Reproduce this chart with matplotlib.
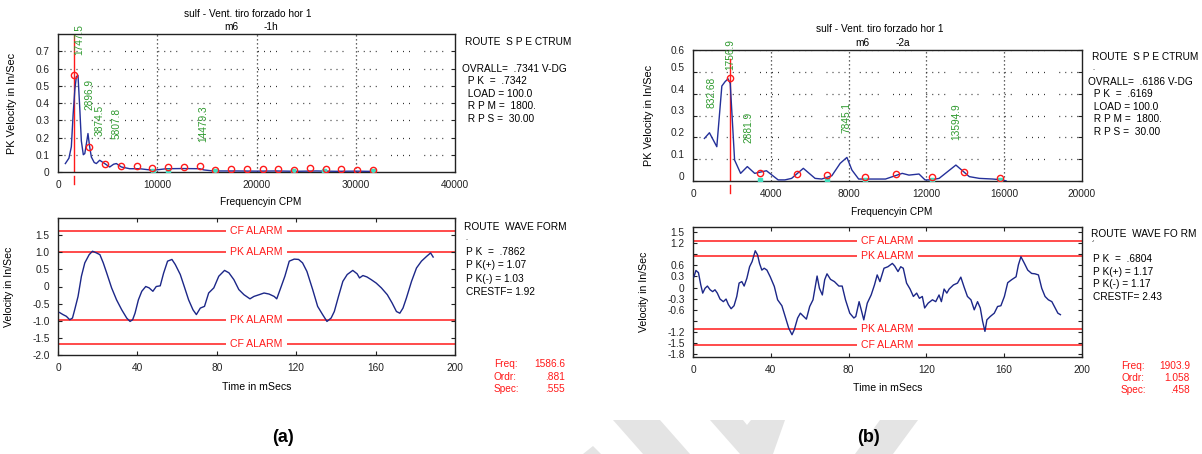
import matplotlib
matplotlib.use("Agg")
import matplotlib.pyplot as plt
from matplotlib.patches import Polygon
from matplotlib.transforms import ScaledTranslation

plt.rcParams['font.family'] = ['Liberation Sans', 'DejaVu Sans']

W, H = 1202, 454

# ---------------- data ----------------
# (a) spectrum
spec_a_freq = [740, 1100, 1344, 1520, 1700, 1848, 2016, 2184, 2352, 2550, 2700, 2850, 3020, 3180, 3360,
               3650, 3864, 4200, 4704, 5208, 5600, 5880, 6384, 7224, 8232, 9576, 10920, 12500, 14280,
               14700, 15624, 18000, 20000, 22000, 24000, 26000, 28000, 30000, 32000]
spec_a_vel = [0.049, 0.080, 0.146, 0.330, 0.480, 0.553, 0.560, 0.380, 0.180, 0.100, 0.107, 0.160, 0.223,
              0.150, 0.087, 0.055, 0.049, 0.068, 0.049, 0.029, 0.045, 0.049, 0.029, 0.019, 0.019, 0.010,
              0.019, 0.020, 0.019, 0.012, 0.006, 0.006, 0.005, 0.006, 0.004, 0.006, 0.004, 0.005, 0.003]
mark_a_freq = [1587, 3173, 4760, 6346, 7933, 9520, 11106, 12693, 14279, 15866, 17453, 19039, 20626,
               22212, 23799, 25386, 26972, 28559, 30145, 31732]
mark_a_vel = [0.563, 0.146, 0.045, 0.035, 0.035, 0.025, 0.029, 0.029, 0.033, 0.014, 0.019, 0.016,
              0.017, 0.017, 0.014, 0.021, 0.016, 0.019, 0.014, 0.014]
cyan_a_freq = [9600, 11100, 15800, 23700, 26800, 31700]
peak_a_labels = ['1747.5', '2896.9', '3874.5', '5807.8', '14479.3']
peak_a_x = [2181, 3121, 4195, 5873, 14598]
peak_a_y = [0.680, 0.359, 0.208, 0.194, 0.175]
cursor_a = 1586.6

# (b) spectrum
spec_b_freq = [586, 845, 1224, 1483, 1650, 1800, 1914, 2138, 2448, 2793, 3172, 3776, 4379, 4724, 5069,
               5672, 6276, 6620, 7137, 7568, 7913, 8172, 8517, 9896, 10758, 11103, 11620, 11930, 12224,
               12654, 13516, 14206, 14723, 15413, 15930, 16102]
spec_b_vel = [0.195, 0.221, 0.157, 0.435, 0.455, 0.468, 0.447, 0.096, 0.035, 0.066, 0.035, 0.047, 0.005,
              0.005, 0.012, 0.058, 0.012, 0.009, 0.024, 0.081, 0.108, 0.050, 0.009, 0.009, 0.035, 0.027,
              0.032, 0.005, 0.005, 0.012, 0.073, 0.020, 0.012, 0.009, 0.005, 0.0]
mark_b_freq = [1904, 3431, 5362, 6913, 8827, 10413, 12310, 13947, 15792]
mark_b_vel = [0.47, 0.035, 0.034, 0.027, 0.020, 0.030, 0.020, 0.043, 0.015]
cyan_b_freq = [3431, 6913, 8827, 12310, 15792]
peak_b_labels = ['832.68', '1756.9', '2881.9', '7845.1', '13594.9']
peak_b_x = [931, 1931, 2862, 7913, 13550]
peak_b_y = [0.333, 0.508, 0.173, 0.218, 0.188]
cursor_b = 1903.9

# (a) waveform
wave_a_t = [0.8, 2.5, 4.2, 5.9, 7.3, 8.4, 10.1, 11.8, 13.5, 15.7, 17.4, 19.4, 21.1, 22.8, 24.5, 27.0,
            29.5, 32.1, 34.6, 36.3, 37.6, 38.8, 40.5, 42.2, 44.2, 45.9, 47.8, 49.5, 51.5, 53.2, 55.2,
            57.4, 59.1, 61.6, 63.6, 65.8, 68.0, 69.7, 71.7, 73.8, 75.9, 78.5, 81.0, 83.9, 86.1, 88.6,
            91.1, 93.7, 96.7, 98.7, 101.3, 103.8, 106.3, 108.9, 110.2, 112.2, 114.3, 116.5, 119.0,
            121.2, 123.2, 125.4, 128.3, 130.8, 133.3, 135.5, 137.6, 139.2, 141.3, 143.5, 145.7, 148.5,
            150.7, 151.9, 153.6, 155.6, 157.8, 160.3, 162.9, 165.9, 168.3, 170.5, 172.2, 173.8, 175.5,
            178.1, 180.6, 183.1, 185.7, 187.7, 189.0]
wave_a_v = [-0.76, -0.82, -0.87, -0.97, -0.92, -0.68, -0.29, 0.30, 0.69, 0.93, 1.03, 0.98, 0.93, 0.69,
            0.40, -0.04, -0.39, -0.68, -0.92, -1.02, -0.97, -0.78, -0.39, -0.14, 0.00, -0.04, -0.14,
            0.00, 0.02, 0.39, 0.74, 0.79, 0.64, 0.35, 0.00, -0.39, -0.68, -0.82, -0.63, -0.58, -0.19,
            -0.04, 0.30, 0.47, 0.40, 0.20, -0.09, -0.24, -0.36, -0.29, -0.24, -0.19, -0.22, -0.29,
            -0.36, -0.04, 0.30, 0.74, 0.80, 0.79, 0.69, 0.44, -0.09, -0.58, -0.82, -1.02, -0.92, -0.73,
            -0.29, 0.15, 0.35, 0.47, 0.37, 0.25, 0.32, 0.28, 0.20, 0.10, -0.04, -0.24, -0.48, -0.73,
            -0.78, -0.63, -0.34, 0.15, 0.54, 0.74, 0.88, 0.98, 0.86]

# (b) waveform
wave_b_t = [0.5, 1.5, 2.8, 4.0, 5.0, 6.2, 7.4, 8.8, 10.1, 11.3, 12.5, 13.9, 15.6, 17.0, 18.2, 19.6,
            21.1, 22.5, 23.7, 25.1, 26.3, 27.7, 29.1, 30.4, 32.0, 33.2, 34.2, 35.4, 36.6, 38.0, 39.7,
            41.8, 43.5, 45.7, 47.4, 49.2, 50.9, 52.1, 53.8, 55.2, 56.9, 58.3, 60.0, 61.7, 63.8, 65.0,
            66.5, 67.7, 68.9, 70.7, 72.7, 75.0, 76.7, 78.4, 80.6, 82.7, 83.7, 85.4, 86.5, 87.8, 89.6,
            91.6, 93.3, 94.7, 96.1, 98.2, 100.2, 102.5, 103.7, 105.4, 106.8, 108.1, 109.8, 111.6,
            113.3, 115.0, 116.4, 117.9, 119.1, 120.9, 123.1, 124.8, 126.5, 127.7, 129.1, 130.5, 131.7,
            133.9, 136.0, 137.7, 139.4, 141.1, 142.9, 144.6, 146.3, 147.7, 148.9, 150.1, 151.1, 152.8,
            154.9, 156.6, 158.3, 160.1, 161.8, 163.8, 166.1, 167.3, 168.6, 170.4, 172.1, 174.1, 175.8,
            177.6, 179.3, 181.0, 182.7, 184.5, 185.8, 187.6, 188.9]
wave_b_v = [0.29, 0.46, 0.40, 0.07, -0.15, -0.02, 0.04, -0.06, -0.11, -0.06, -0.15, -0.31, -0.38,
            -0.31, -0.46, -0.57, -0.49, -0.24, 0.12, 0.16, 0.04, 0.25, 0.56, 0.70, 0.99, 0.88, 0.65,
            0.47, 0.52, 0.47, 0.29, 0.03, -0.33, -0.49, -0.78, -1.09, -1.27, -1.13, -0.82, -0.69,
            -0.78, -0.85, -0.51, -0.33, 0.31, -0.02, -0.20, 0.21, 0.37, 0.22, 0.16, 0.04, 0.04, -0.33,
            -0.69, -0.82, -0.78, -0.38, -0.60, -0.87, -0.42, -0.20, 0.07, 0.34, 0.16, 0.52, 0.56, 0.65,
            0.58, 0.43, 0.56, 0.52, 0.12, -0.04, -0.24, -0.15, -0.29, -0.24, -0.55, -0.42, -0.33,
            -0.38, -0.20, -0.38, -0.04, -0.15, -0.04, 0.07, 0.12, 0.28, 0.01, -0.24, -0.33, -0.60,
            -0.38, -0.55, -0.91, -1.18, -0.87, -0.78, -0.69, -0.51, -0.49, -0.24, 0.13, 0.21, 0.29,
            0.61, 0.83, 0.65, 0.47, 0.38, 0.37, 0.34, -0.02, -0.24, -0.33, -0.38, -0.51, -0.69, -0.73]

alarm_a = {'CF ALARM': [1.63, -1.68], 'PK ALARM': [1.0, -0.99]}
alarm_b = {'CF ALARM': [1.26, -1.54], 'PK ALARM': [0.85, -1.12]}

titles = ["sulf - Vent. tiro forzado hor 1", "sulf - Vent. tiro forzado hor 1"]

spec_info_a = ["OVRALL=  .7341 V-DG", "  P K  =  .7342", "  LOAD = 100.0", "  R P M =  1800.", "  R P S =  30.00"]
spec_info_b = ["OVRALL=  .6186 V-DG", "  P K  =  .6169", "  LOAD = 100.0", "  R P M =  1800.", "  R P S =  30.00"]
wave_info_a = ["P K  =  .7862", "P K(+) = 1.07", "P K(-) = 1.03", "CRESTF= 1.92"]
wave_info_b = ["P K  =  .6804", "P K(+) = 1.17", "P K(-) = 1.17", "CRESTF= 2.43"]
cursor_info_a = [("Freq:", "1586.6"), ("Ordr:", ".881"), ("Spec:", ".555")]
cursor_info_b = [("Freq:", "1903.9"), ("Ordr:", "1.058"), ("Spec:", ".458")]

# ---------------- styling ----------------
BLUE = '#24309a'
WBLUE = '#1c2788'
RED = '#ff1a1a'
GREEN = '#2f9a2f'
FS = 7.3

fig = plt.figure(figsize=(W / 100, H / 100), dpi=100)


def rect(l, r, t, b):
    return [l / W, 1 - b / H, (r - l) / W, (b - t) / H]


def fx(x):
    return x / W


def fy(y):
    return 1 - y / H


def style_axes(ax):
    for s in ax.spines.values():
        s.set_linewidth(1.0)
        s.set_color('#222222')
    ax.tick_params(axis='y', which='both', direction='in', length=3, labelsize=FS, pad=6,
                   right=True, colors='#222222')
    ax.tick_params(axis='x', labelsize=FS, pad=6, colors='#222222')


group_dash = (0, (0.8, 4.0, 0.8, 4.0, 0.8, 4.0, 0.8, 11.4))


def spectrum(ax, freq, vel, mf, mv, cyan, plabels, px, py, cursor, xmax, ymax, yt, xt, cursor_top):
    ax.set_xlim(0, xmax)
    ax.set_ylim(0, ymax)
    for x in xt[1:-1]:
        ax.axvline(x, color='#333333', lw=0.9, linestyle=(0, (1, 2.2)), zorder=1)
    for y in yt[1:]:
        ax.axhline(y, color='#333333', lw=0.9, linestyle=group_dash, zorder=1)
    ax.plot([cursor, cursor], [0, cursor_top], color=RED, lw=1.0, zorder=2)
    ax.plot([cursor, cursor], [-0.03, -0.09], color=RED, lw=1.0, clip_on=False,
            transform=ax.get_xaxis_transform())
    ax.plot(freq, vel, color=BLUE, lw=1.0, zorder=3)
    ax.plot(cyan, [0.004] * len(cyan), linestyle='none', marker='s', ms=2.5,
            mfc='#40e0c0', mec='#40e0c0', zorder=3)
    ax.plot(mf, mv, linestyle='none', marker='o', ms=4.5, mfc='none', mec=RED, mew=1.0, zorder=4)
    for lab, x, y in zip(plabels, px, py):
        ax.text(x, y, lab, rotation=90, ha='center', va='bottom', color=GREEN, fontsize=FS,
                clip_on=False, zorder=5)
    ax.set_yticks(yt)
    ax.set_yticklabels(['0'] + ['%.1f' % v for v in yt[1:]])
    ax.set_xticks(xt)
    ax.set_xticklabels([str(v) for v in xt])
    ax.tick_params(axis='x', length=0)
    ax.set_ylabel('PK Velocity in In/Sec', fontsize=FS + 0.5)
    ax.set_xlabel('Frequencyin CPM', fontsize=FS)


def waveform(ax, t, v, alarms, ylim, yt, ylabels):
    ax.set_xlim(0, 200)
    ax.set_ylim(*ylim)
    for name, ys in alarms.items():
        for y in ys:
            ax.axhline(y, color=RED, lw=1.1, zorder=1)
            ax.text(100, y, name, ha='center', va='center', color=RED, fontsize=FS + 0.3,
                    bbox=dict(facecolor='white', edgecolor='none', pad=3.0), zorder=2)
    ax.plot(t, v, color=WBLUE, lw=1.0, zorder=3)
    ax.set_yticks(yt)
    ax.set_yticklabels(ylabels)
    ax.set_xticks([0, 40, 80, 120, 160, 200])
    ax.tick_params(axis='x', direction='in', length=3, top=True)
    ax.set_ylabel('Velocity in In/Sec', fontsize=FS + 0.3)
    ax.set_xlabel('Time in mSecs', fontsize=FS + 0.3)


# ---- (a) spectrum
ax1 = fig.add_axes(rect(58, 455, 34, 172))
spectrum(ax1, spec_a_freq, spec_a_vel, mark_a_freq, mark_a_vel, cyan_a_freq, peak_a_labels,
         peak_a_x, peak_a_y, cursor_a, 40000, 0.8, [0, 0.1, 0.2, 0.3, 0.4, 0.5, 0.6, 0.7],
         [0, 10000, 20000, 30000, 40000], 0.8)
style_axes(ax1)
ax1.tick_params(axis='x', length=0)
ax1.yaxis.set_label_coords(-0.104, 0.5)
ax1.xaxis.set_label_coords(0.51, -0.18)

# ---- (b) spectrum
ax2 = fig.add_axes(rect(693, 1082, 50, 181))
spectrum(ax2, spec_b_freq, spec_b_vel, mark_b_freq, mark_b_vel, cyan_b_freq, peak_b_labels,
         peak_b_x, peak_b_y, cursor_b, 20000, 0.6, [0, 0.1, 0.2, 0.3, 0.4, 0.5, 0.6],
         [0, 4000, 8000, 12000, 16000, 20000], 0.56)
style_axes(ax2)
ax2.tick_params(axis='x', length=0)
ax2.yaxis.set_label_coords(-0.101, 0.5)
ax2.xaxis.set_label_coords(0.51, -0.2)
# tick labels of (b) spectrum sit a little above their ticks in the reference
shift = ScaledTranslation(0, 5 / 100, fig.dpi_scale_trans)
for lab in ax2.get_yticklabels()[:-1]:
    lab.set_transform(lab.get_transform() + shift)

# ---- (a) waveform
ax3 = fig.add_axes(rect(58, 455, 218, 355))
yt3 = [1.5, 1.0, 0.5, 0, -0.5, -1.0, -1.5, -2.0]
waveform(ax3, wave_a_t, wave_a_v, alarm_a, (-2.0, 2.0), yt3,
         ['1.5', '1.0', '0.5', '0', '-0.5', '-1.0', '-1.5', '-2.0'])
style_axes(ax3)
ax3.tick_params(axis='x', direction='in', length=3, top=True)
ax3.yaxis.set_label_coords(-0.11, 0.5)
ax3.xaxis.set_label_coords(0.5, -0.2)

# ---- (b) waveform
ax4 = fig.add_axes(rect(693, 1082, 227, 357))
yt4 = [1.5, 1.2, 0.9, 0.6, 0.3, 0, -0.3, -0.6, -0.9, -1.2, -1.5, -1.8]
waveform(ax4, wave_b_t, wave_b_v, alarm_b, (-1.87, 1.63), yt4,
         ['1.5', '1.2', '', '0.6', '0.3', '0', '-0.3', '-0.6', '', '-1.2', '-1.5', '-1.8'])
style_axes(ax4)
ax4.tick_params(axis='x', direction='in', length=3, top=True)
ax4.yaxis.set_label_coords(-0.114, 0.5)
ax4.xaxis.set_label_coords(0.5, -0.2)

# ---- titles
fig.text(fx(248), fy(14), titles[0], ha='center', va='center', fontsize=FS)
fig.text(fx(231), fy(27), 'm6', ha='center', va='center', fontsize=FS)
fig.text(fx(271), fy(27), '-1h', ha='center', va='center', fontsize=FS)
fig.text(fx(880), fy(29), titles[1], ha='center', va='center', fontsize=FS)
fig.text(fx(862), fy(43), 'm6', ha='center', va='center', fontsize=FS)
fig.text(fx(903), fy(43), '-2a', ha='center', va='center', fontsize=FS)

# ---- info panels (a)
fig.text(fx(465), fy(42), 'ROUTE  S P E CTRUM', va='center', fontsize=FS)
for i, s in enumerate(spec_info_a):
    fig.text(fx(462), fy(69 + 12.4 * i), s, va='center', fontsize=FS)
fig.text(fx(464), fy(227), 'ROUTE  WAVE FORM', va='center', fontsize=FS)
fig.text(fx(465), fy(239), '.', va='center', fontsize=FS - 2)
for i, s in enumerate(wave_info_a):
    fig.text(fx(466), fy(252 + 13.3 * i), s, va='center', fontsize=FS)
for i, (k, v) in enumerate(cursor_info_a):
    fig.text(fx(494), fy(364 + 12.5 * i), k, va='center', color=RED, fontsize=FS)
    fig.text(fx(565), fy(364 + 12.5 * i), v, va='center', ha='right', color=RED, fontsize=FS)

# ---- info panels (b)
fig.text(fx(1092), fy(57), 'ROUTE  S P E CTRUM', va='center', fontsize=FS)
fig.text(fx(1092), fy(68), '.', va='center', fontsize=FS - 2)
for i, s in enumerate(spec_info_b):
    fig.text(fx(1088), fy(82 + 12.4 * i), s, va='center', fontsize=FS)
fig.text(fx(1091), fy(234), 'ROUTE  WAVE FO RM', va='center', fontsize=FS)
fig.text(fx(1092), fy(245), '\u00b4', va='center', fontsize=FS - 1)
for i, s in enumerate(wave_info_b):
    fig.text(fx(1093), fy(259 + 12.6 * i), s, va='center', fontsize=FS)
for i, (k, v) in enumerate(cursor_info_b):
    fig.text(fx(1121), fy(366 + 12.2 * i), k, va='center', color=RED, fontsize=FS)
    fig.text(fx(1190), fy(366 + 12.2 * i), v, va='center', ha='right', color=RED, fontsize=FS)

# ---- panel letters
fig.text(fx(283), fy(437), '(a)', ha='center', va='center', fontsize=13, fontweight='bold')
fig.text(fx(868), fy(437), '(b)', ha='center', va='center', fontsize=13, fontweight='bold')

# ---- faint watermark shapes
shapes = [
    [(613, 420), (660, 420), (690, 454), (643, 454)],
    [(710, 420), (743, 420), (747, 425), (751, 420), (785, 420), (773, 454), (740, 454)],
    [(880, 420), (918, 420), (893, 454), (855, 454)],
    [(583, 454), (593, 446), (601, 454)],
]
for pts in shapes:
    poly = Polygon([(fx(x), fy(y)) for x, y in pts], closed=True, transform=fig.transFigure,
                   facecolor='#e4e4e4', edgecolor='none', zorder=-5)
    fig.patches.append(poly)

fig.savefig('out.png', dpi=100)
